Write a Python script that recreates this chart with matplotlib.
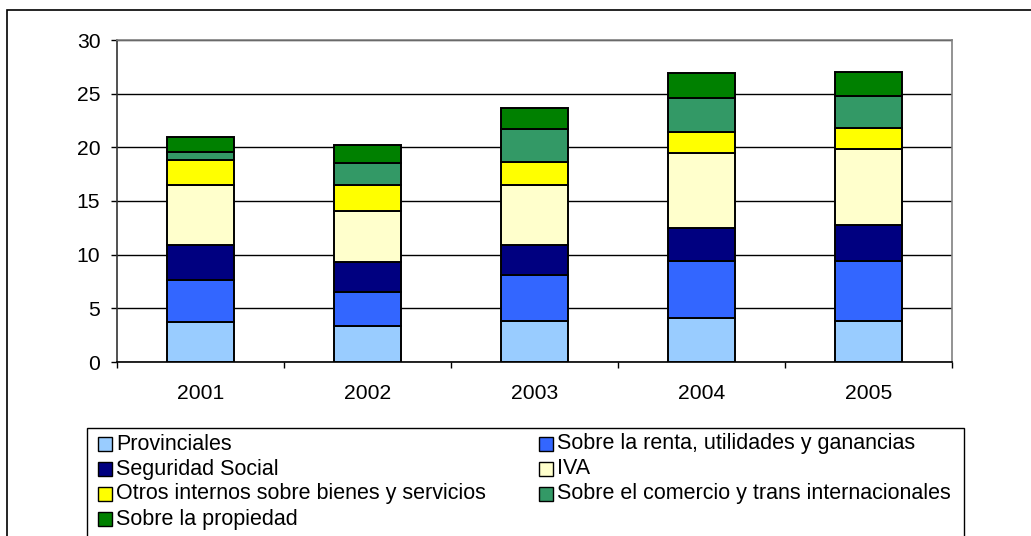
import matplotlib
matplotlib.use("Agg")
import matplotlib.pyplot as plt
from matplotlib.patches import Rectangle
import numpy as np

plt.rcParams['font.family'] = ['Liberation Sans', 'DejaVu Sans']

years = ["2001", "2002", "2003", "2004", "2005"]
series_names = [
    "Provinciales",
    "Sobre la renta, utilidades y ganancias",
    "Seguridad Social",
    "IVA",
    "Otros internos sobre bienes y servicios",
    "Sobre el comercio y trans internacionales",
    "Sobre la propiedad",
]
provinciales = [3.69, 3.32, 3.85, 4.06, 3.85]
renta = [3.91, 3.16, 4.25, 5.37, 5.58]
seguridad = [3.32, 2.80, 2.82, 3.01, 3.38]
iva = [5.59, 4.81, 5.59, 7.01, 7.02]
otros = [2.32, 2.39, 2.17, 2.02, 2.01]
comercio = [0.78, 2.04, 3.01, 3.17, 2.98]
propiedad = [1.33, 1.68, 2.01, 2.26, 2.24]
yticks = [0, 5, 10, 15, 20, 25, 30]

series_values = [provinciales, renta, seguridad, iva, otros, comercio, propiedad]
colors = ["#99CCFF", "#3366FF", "#000080", "#FFFFCC", "#FFFF00", "#339966", "#008000"]

W, H = 1031, 536
fig = plt.figure(figsize=(W / 100, H / 100), dpi=100)

def fx(px):
    return px / W

def fy(py):
    return 1 - py / H

# outer chart frame
fig.patches.append(Rectangle((fx(7), fy(545)), fx(1040) - fx(7), fy(10) - fy(545),
                             transform=fig.transFigure, fill=False, edgecolor="black",
                             linewidth=1.2, clip_on=False))

left, right, top, bottom = 117, 952, 40, 362
ax = fig.add_axes([fx(left), fy(bottom), fx(right) - fx(left), fy(top) - fy(bottom)])

x = np.arange(len(years))
base = np.zeros(len(years))
for vals, col, name in zip(series_values, colors, series_names):
    ax.bar(x, vals, width=0.40, bottom=base, color=col, edgecolor="black",
           linewidth=1.4, label=name, zorder=3)
    base = base + np.array(vals)

ax.set_xlim(-0.5, len(years) - 0.5)
ax.set_ylim(0, 30)
ax.set_yticks(yticks)
ax.yaxis.grid(True, color="black", linewidth=1.0, zorder=0)
ax.set_axisbelow(True)

ax.set_xticks(x)
ax.set_xticklabels(years)
ax.set_xticks(np.arange(-0.5, len(years)), minor=True)
ax.tick_params(axis="x", which="major", length=0, pad=15.5, labelsize=15.2)
ax.tick_params(axis="x", which="minor", length=4, width=1, direction="out", color="black")
ax.tick_params(axis="y", which="major", length=4, width=1, direction="out", pad=8,
               labelsize=15.2, color="black")

ax.spines["left"].set_color("#333333")
ax.spines["bottom"].set_color("black")
ax.spines["top"].set_color("#808080")
ax.spines["right"].set_color("#808080")
for s in ax.spines.values():
    s.set_linewidth(1.2)

# legend box drawn manually
fig.patches.append(Rectangle((fx(87), fy(545)), fx(964) - fx(87), fy(428) - fy(545),
                             transform=fig.transFigure, fill=False, edgecolor="black",
                             linewidth=1.0, clip_on=False))
order = [(0, 0, 0), (1, 1, 0), (2, 0, 1), (3, 1, 1), (4, 0, 2), (5, 1, 2), (6, 0, 3)]
col_x = [98, 539]
row_y = [444, 469, 494, 519]
for idx, c, r in order:
    hx, hy = col_x[c], row_y[r]
    fig.patches.append(Rectangle((fx(hx), fy(hy + 7)), fx(14), 14 / H,
                                 transform=fig.transFigure, facecolor=colors[idx],
                                 edgecolor="black", linewidth=1.0))
    fig.text(fx(hx + 18), fy(hy), series_names[idx], fontsize=15.5, va="center", ha="left")

fig.savefig("out.png", dpi=100)
